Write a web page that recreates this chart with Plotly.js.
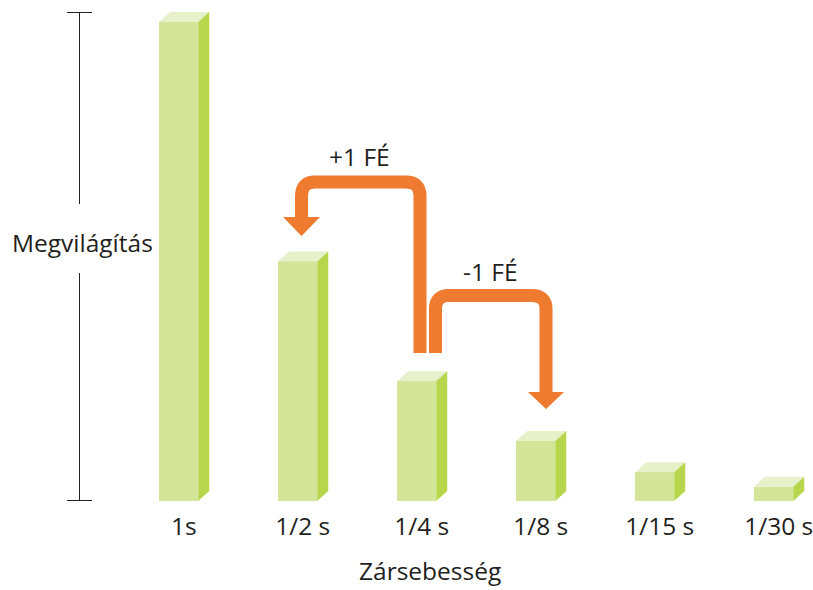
<!DOCTYPE html>
<html>
<head>
<meta charset="utf-8">
<script src="https://cdn.plot.ly/plotly-3.0.1.min.js"></script>
<style>html,body{margin:0;padding:0;background:#fff;}#chart{width:813px;height:590px;}</style>
</head>
<body>
<div id="chart"></div>
<script>
// Data
const categories = ["1s", "1/2 s", "1/4 s", "1/8 s", "1/15 s", "1/30 s"];
const exposure = [100, 50, 25, 12.5, 6, 3];
const yLabel = "Megvilágítás";
const xLabel = "Zársebesség";
const plusLabel = "+1 FÉ";
const minusLabel = "-1 FÉ";

// Styling / geometry helpers
const W = 813, H = 590;
const mB = 89;
const plotH = H - mB;
const pxPerX = 119, x0px = 178.75;
const xRange = [-x0px / pxPerX, (W - x0px) / pxPerX];
const yMax = 104.59;
const pxPerY = plotH / yMax;
const barW = 39 / pxPerX;
const dx = 11 / pxPerX, dy = 10 / pxPerY;
const labelShift = 5 / pxPerX;
const cFront = "#d4e499", cTop = "#e6f0c9", cSide = "#b7d64b", cOrange = "#ee7b30", cText = "#231f20";

const xs = categories.map((c, i) => i);
const traces = [];
traces.push({
  type: "bar", x: xs, y: exposure, width: barW,
  marker: {color: cFront, line: {width: 0}}, hoverinfo: "skip", showlegend: false
});
xs.forEach((x, i) => {
  const v = exposure[i];
  const l = x - barW / 2, r = x + barW / 2;
  traces.push({
    type: "scatter", mode: "lines", fill: "toself", fillcolor: cTop, line: {width: 0},
    x: [l, r, r + dx, l + dx, l], y: [v, v, v + dy, v + dy, v],
    hoverinfo: "skip", showlegend: false
  });
  traces.push({
    type: "scatter", mode: "lines", fill: "toself", fillcolor: cSide, line: {width: 0},
    x: [r, r + dx, r + dx, r, r], y: [v, v + dy, dy, 0, v],
    hoverinfo: "skip", showlegend: false
  });
});

// pixel -> data helpers for annotation arrows
const X = p => (p - x0px) / pxPerX;
const Y = p => (plotH - p) / pxPerY;
function qpath(pts) {
  let d = "";
  pts.forEach(s => {
    if (s[0] === "Q") d += " Q" + X(s[1]).toFixed(4) + "," + Y(s[2]).toFixed(4) + " " + X(s[3]).toFixed(4) + "," + Y(s[4]).toFixed(4);
    else if (s[0] === "Z") d += " Z";
    else d += " " + s[0] + X(s[1]).toFixed(4) + "," + Y(s[2]).toFixed(4);
  });
  return d.trim();
}
const plusPath = qpath([["M", 420, 353], ["L", 420, 196], ["Q", 420, 182, 406, 182], ["L", 315, 182], ["Q", 301.5, 182, 301.5, 196], ["L", 301.5, 218]]);
const plusHead = qpath([["M", 283, 217], ["L", 320, 217], ["L", 301.5, 236], ["Z"]]);
const minusPath = qpath([["M", 435.5, 353], ["L", 435.5, 309], ["Q", 435.5, 295.5, 449, 295.5], ["L", 532, 295.5], ["Q", 546, 295.5, 546, 309], ["L", 546, 393]]);
const minusHead = qpath([["M", 528, 392], ["L", 564, 392], ["L", 546, 409], ["Z"]]);

const axX = 79.5 / W;
const py = p => 1 - p / plotH;
const shapes = [
  {type: "path", xref: "x", yref: "y", path: plusPath, line: {color: cOrange, width: 13}, fillcolor: "rgba(0,0,0,0)"},
  {type: "path", xref: "x", yref: "y", path: plusHead, line: {width: 0}, fillcolor: cOrange},
  {type: "path", xref: "x", yref: "y", path: minusPath, line: {color: cOrange, width: 13}, fillcolor: "rgba(0,0,0,0)"},
  {type: "path", xref: "x", yref: "y", path: minusHead, line: {width: 0}, fillcolor: cOrange},
  // decorative vertical y-axis bracket
  {type: "line", xref: "paper", yref: "paper", x0: axX, x1: axX, y0: py(12.5), y1: py(204), line: {color: cText, width: 1}},
  {type: "line", xref: "paper", yref: "paper", x0: axX, x1: axX, y0: py(273), y1: py(500.5), line: {color: cText, width: 1}},
  {type: "line", xref: "paper", yref: "paper", x0: 67 / W, x1: 92 / W, y0: py(12.5), y1: py(12.5), line: {color: cText, width: 1}},
  {type: "line", xref: "paper", yref: "paper", x0: 67 / W, x1: 92 / W, y0: py(500.5), y1: py(500.5), line: {color: cText, width: 1}}
];

const font = {family: "Open Sans, Lato, sans-serif", size: 24.5, color: cText};
const annotations = [
  {text: yLabel, xref: "paper", yref: "paper", x: 82 / W, y: py(242), showarrow: false, font: font, xanchor: "center", yanchor: "middle"},
  {text: xLabel, xref: "paper", yref: "paper", x: 430 / W, y: py(589), showarrow: false, font: font, xanchor: "center", yanchor: "bottom"},
  {text: plusLabel, xref: "x", yref: "y", x: X(359), y: Y(156), showarrow: false, font: font, xanchor: "center", yanchor: "middle"},
  {text: minusLabel, xref: "x", yref: "y", x: X(490), y: Y(271), showarrow: false, font: font, xanchor: "center", yanchor: "middle"}
];

const layout = {
  width: W, height: H,
  margin: {l: 0, r: 0, t: 0, b: mB, pad: 0},
  paper_bgcolor: "#fff", plot_bgcolor: "#fff",
  showlegend: false,
  bargap: 0,
  xaxis: {
    range: xRange, tickvals: xs.map(x => x + labelShift), ticktext: categories, showgrid: false, zeroline: false, showline: false,
    ticks: "outside", ticklen: 4, tickcolor: "rgba(0,0,0,0)", tickfont: font, ticklabeloverflow: "allow"
  },
  yaxis: {range: [0, yMax], visible: false, fixedrange: true},
  shapes: shapes,
  annotations: annotations
};
Plotly.newPlot("chart", traces, layout, {staticPlot: true, displayModeBar: false});
</script>
</body>
</html>
